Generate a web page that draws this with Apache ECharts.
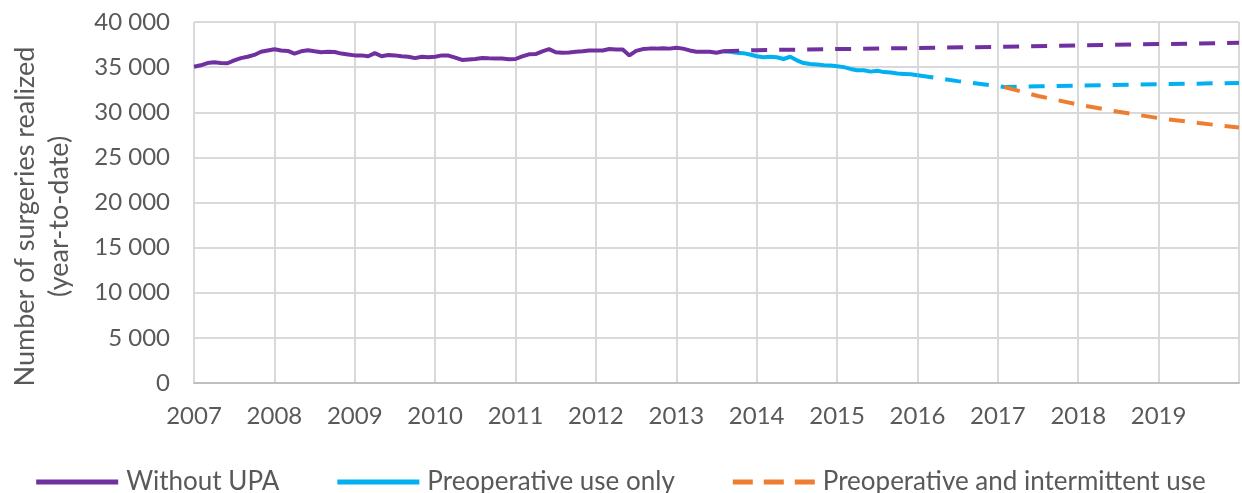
<!DOCTYPE html>
<html>
<head>
<meta charset="utf-8">
<script src="https://cdn.jsdelivr.net/npm/echarts@6/dist/echarts.min.js"></script>
<style>
  html, body { margin: 0; padding: 0; background: #fff; }
  #chart { width: 1242px; height: 493px; }
</style>
</head>
<body>
<div id="chart"></div>
<script>
// monthly series start in January 2007
var startYear = 2007;

// observed, without UPA (Jan 2007 - Aug 2013)
var withoutUpaMonthly = [
  35050, 35200, 35450, 35530, 35450, 35430, 35750, 36000, 36150, 36350, 36700, 36850,
  36970, 36850, 36800, 36500, 36750, 36860, 36750, 36650, 36700, 36680, 36500, 36400,
  36300, 36300, 36200, 36550, 36200, 36350, 36300, 36200, 36150, 36000, 36150, 36100,
  36150, 36300, 36280, 36050, 35800, 35850, 35900, 36000, 35970, 35960, 35950, 35870,
  35900, 36200, 36420, 36450, 36750, 37000, 36650, 36600, 36620, 36700, 36750, 36850,
  36850, 36850, 37000, 36950, 36950, 36300, 36800, 37000, 37050, 37050, 37100, 37050,
  37150, 37050, 36850, 36700, 36700, 36700, 36600, 36750
];

// observed, preoperative use only (Aug 2013 - Jan 2016)
var preopStartIndex = 79;
var preopMonthly = [
  36750, 36700, 36600, 36550, 36400, 36200, 36100, 36150, 36100, 35900, 36150, 35750,
  35450, 35350, 35300, 35200, 35180, 35100, 35000, 34800, 34650, 34650, 34500, 34600,
  34450, 34400, 34300, 34250, 34200, 34100
];

// projections
var withoutUpaProjYears = [2013.583, 2014, 2015, 2016, 2017, 2018, 2019, 2020];
var withoutUpaProj = [36750, 36880, 37000, 37120, 37250, 37400, 37550, 37700];

var preopProjYears = [2016, 2016.5, 2017.08, 2017.5, 2018, 2019, 2020];
var preopProj = [34100, 33450, 32800, 32880, 32950, 33100, 33250];

var intermittentProjYears = [2017.08, 2017.5, 2018, 2018.5, 2019, 2019.5, 2020];
var intermittentProj = [32800, 31800, 30850, 30050, 29350, 28800, 28300];

var yearTicks = [2007, 2008, 2009, 2010, 2011, 2012, 2013, 2014, 2015, 2016, 2017, 2018, 2019];

function monthly(values, offset) {
  return values.map(function (v, i) {
    return [startYear + (offset + i) / 12, v];
  });
}
function pairs(xs, ys) {
  return xs.map(function (x, i) { return [x, ys[i]]; });
}

var purple = '#7030a0';
var blue = '#00b0f0';
var orange = '#ed7d31';
var textColor = '#595959';
var font = 'Lato';

// legend icons: solid bar and three dashes
var solidIcon = 'path://M0,0h82v5h-82z';
var dashIcon = 'path://M0,0h20v5h-20z M31,0h20v5h-20z M62,0h20v5h-20z';

var option = {
  animation: false,
  backgroundColor: '#fff',
  textStyle: { fontFamily: font },
  grid: { left: 193, right: 2, top: 22, bottom: 110 },
  legend: {
    top: 464,
    left: 'center',
    itemWidth: 82,
    itemHeight: 5,
    itemGap: 58,
    textStyle: { fontFamily: font, fontSize: 26, color: textColor, padding: [0, 0, 0, 3] },
    data: [
      { name: 'Without UPA', icon: solidIcon },
      { name: 'Preoperative use only', icon: solidIcon },
      { name: 'Preoperative and intermittent use', icon: dashIcon }
    ]
  },
  xAxis: {
    type: 'value',
    min: 2007,
    max: 2020,
    interval: 1,
    axisLine: { lineStyle: { color: '#bfbfbf', width: 2 } },
    axisTick: { show: false },
    splitLine: { show: true, lineStyle: { color: '#d9d9d9', width: 2 } },
    axisLabel: {
      fontFamily: font,
      fontSize: 24,
      color: textColor,
      margin: 21,
      formatter: function (v) {
        return yearTicks.indexOf(v) >= 0 ? String(v) : '';
      }
    }
  },
  yAxis: {
    type: 'value',
    min: 0,
    max: 40000,
    interval: 5000,
    name: 'Number of surgeries realized\n(year-to-date)',
    nameLocation: 'middle',
    nameGap: 118,
    nameTextStyle: {
      fontFamily: font, fontSize: 27, color: textColor, lineHeight: 34,
      padding: [0, 28, 0, 0]
    },
    axisLine: { show: false },
    axisTick: { show: false },
    splitLine: { lineStyle: { color: '#d9d9d9', width: 2 } },
    axisLabel: {
      fontFamily: font,
      fontSize: 24,
      color: textColor,
      margin: 24,
      formatter: function (v) {
        return String(v).replace(/\B(?=(\d{3})+(?!\d))/g, ' ');
      }
    }
  },
  series: [
    {
      name: 'Without UPA',
      type: 'line',
      symbol: 'none',
      lineStyle: { color: purple, width: 4 },
      itemStyle: { color: purple },
      data: monthly(withoutUpaMonthly, 0),
      z: 3
    },
    {
      name: 'Without UPA (projection)',
      type: 'line',
      symbol: 'none',
      lineStyle: { color: purple, width: 4, type: [16, 12] },
      itemStyle: { color: purple },
      data: pairs(withoutUpaProjYears, withoutUpaProj),
      z: 3
    },
    {
      name: 'Preoperative use only',
      type: 'line',
      symbol: 'none',
      lineStyle: { color: blue, width: 4 },
      itemStyle: { color: blue },
      data: monthly(preopMonthly, preopStartIndex),
      z: 2
    },
    {
      name: 'Preoperative use only',
      type: 'line',
      symbol: 'none',
      lineStyle: { color: blue, width: 4, type: [16, 12] },
      itemStyle: { color: blue },
      data: pairs(preopProjYears, preopProj),
      z: 2
    },
    {
      name: 'Preoperative and intermittent use',
      type: 'line',
      symbol: 'none',
      lineStyle: { color: orange, width: 4, type: [16, 12] },
      itemStyle: { color: orange },
      data: pairs(intermittentProjYears, intermittentProj),
      z: 2
    }
  ]
};

var chart = echarts.init(document.getElementById('chart'));
chart.setOption(option);
</script>
</body>
</html>
